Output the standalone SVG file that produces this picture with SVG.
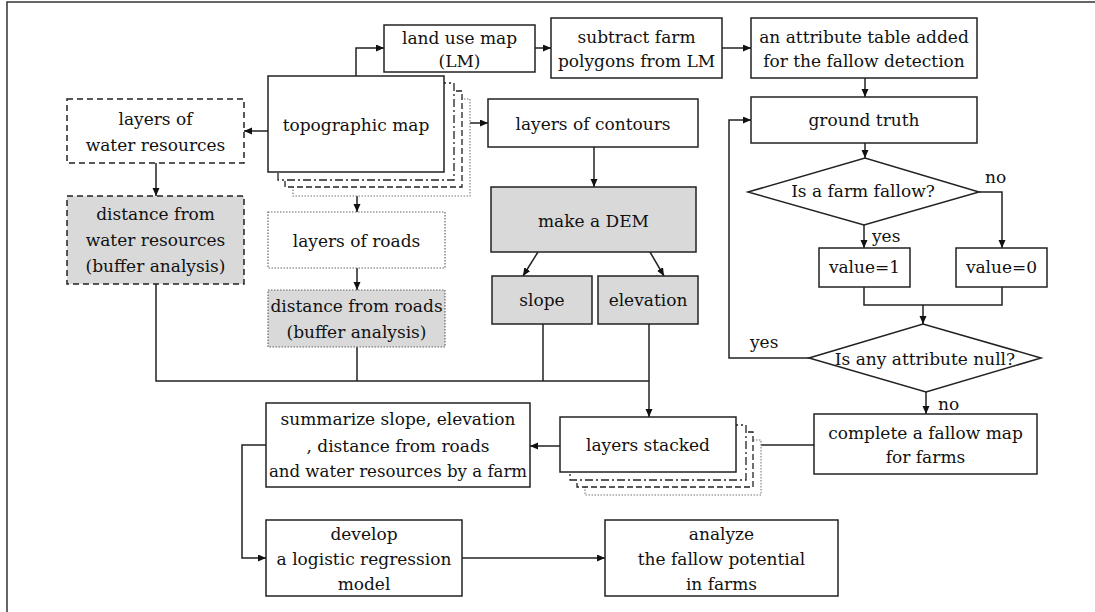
<svg xmlns="http://www.w3.org/2000/svg" width="1095" height="612" viewBox="0 0 1095 612">
<defs>
<marker id="ah" markerUnits="userSpaceOnUse" markerWidth="9" markerHeight="8" refX="8" refY="3.5" orient="auto"><path d="M0,0 L8,3.5 L0,7 z" fill="#111"/></marker>
<style>
.b{fill:#fff;stroke:#222;stroke-width:1.5}
.g{fill:#d9d9d9;stroke:#222;stroke-width:1.5}
.dash{fill:#fff;stroke:#222;stroke-width:1.5;stroke-dasharray:6,4}
.dashg{fill:#d9d9d9;stroke:#222;stroke-width:1.5;stroke-dasharray:6,4}
.dot{fill:#fff;stroke:#666;stroke-width:1.2;stroke-dasharray:1.5,1.5}
.dotg{fill:#d9d9d9;stroke:#666;stroke-width:1.2;stroke-dasharray:1.5,1.5}
.dd{fill:#fff;stroke:#222;stroke-width:1.3;stroke-dasharray:8,3,2,3}
.ds{fill:#fff;stroke:#222;stroke-width:1.3;stroke-dasharray:6,3}
.dt{fill:#fff;stroke:#777;stroke-width:1.1;stroke-dasharray:1.5,1.5}
.c{fill:none;stroke:#222;stroke-width:1.5}
.a{fill:none;stroke:#222;stroke-width:1.5;marker-end:url(#ah)}
text{font-size:17px;fill:#111;text-anchor:middle}
.l{text-anchor:start}
.s{font-size:16.6px}
</style>
</defs>
<path d="M7,612 V2 H1095" fill="none" stroke="#333" stroke-width="1.5"/>

<g id="connectors">
<path class="a" d="M356,76 V48 H384"/>
<path class="a" d="M268,131 H244"/>
<path class="a" d="M444,123 H488"/>
<path class="a" d="M357,172 V212"/>
<path class="a" d="M156,163 V196"/>
<path class="a" d="M357,268 V290"/>
<path class="a" d="M535,48 H551"/>
<path class="a" d="M722,48 H751"/>
<path class="a" d="M865,78 V97"/>
<path class="a" d="M594,147 V187"/>
<path class="a" d="M538,252 L523,276"/>
<path class="a" d="M650,252 L664,276"/>
<path class="a" d="M865,143 V158"/>
<path class="a" d="M864,225 V248"/>
<path class="a" d="M979,192 H1002 V248"/>
<path class="c" d="M864,287 V305 H1002 V287"/>
<path class="a" d="M923,305 V324"/>
<path class="a" d="M809,358 H729 V120 H751"/>
<path class="a" d="M926,392 V414"/>
<path class="a" d="M814,445 H736"/>
<path class="c" d="M156,284 V381 H649"/>
<path class="c" d="M357,347 V381"/>
<path class="c" d="M543,324 V381"/>
<path class="a" d="M649,324 V417"/>
<path class="a" d="M560,446 H530"/>
<path class="a" d="M266,445 H242 V558 H266"/>
<path class="a" d="M462,558 H605"/>
</g>

<g font-family="'DejaVu Serif', 'Liberation Serif', serif">
<g id="land-use-map"><rect class="b" x="384" y="25" width="151" height="47"/><text x="459.5" y="44">land use map</text><text x="459.5" y="67">(LM)</text></g>
<g id="subtract"><rect class="b" x="551" y="18" width="171" height="60"/><text x="636.5" y="43">subtract farm</text><text x="636.5" y="67">polygons from LM</text></g>
<g id="attribute-table"><rect class="b" x="751" y="18" width="226" height="60"/><text x="864" y="43">an attribute table added</text><text x="864" y="67">for the fallow detection</text></g>

<g id="topographic-map">
<rect class="dt" x="293" y="99" width="177" height="97"/>
<rect class="ds" x="285" y="91" width="177" height="96"/>
<rect class="dd" x="278" y="83" width="176" height="97"/>
<rect class="b" x="268" y="76" width="176" height="96"/>
<text x="356" y="131">topographic map</text>
</g>
<g id="water-layers"><rect class="dash" x="67" y="99" width="177" height="64"/><text x="155.5" y="125">layers of</text><text x="155.5" y="151">water resources</text></g>
<g id="contours"><rect class="b" x="488" y="99" width="210" height="48"/><text x="593" y="130">layers of contours</text></g>
<g id="ground-truth"><rect class="b" x="751" y="97" width="226" height="46"/><text x="864" y="126">ground truth</text></g>
<g id="farm-fallow"><polygon class="b" points="748,192 865,158 979,192 864,225"/><text x="863" y="197">Is a farm fallow?</text></g>
<g id="water-distance"><rect class="dashg" x="67" y="196" width="177" height="88"/><text x="155.5" y="220">distance from</text><text x="155.5" y="246">water resources</text><text x="155.5" y="272">(buffer analysis)</text></g>
<g id="roads"><rect class="dot" x="268" y="212" width="177" height="56"/><text x="356.5" y="247">layers of roads</text></g>
<g id="roads-distance"><rect class="dotg" x="268" y="290" width="177" height="57"/><text x="356.5" y="312">distance from roads</text><text x="356.5" y="338">(buffer analysis)</text></g>
<g id="dem"><rect class="g" x="491" y="187" width="205" height="65"/><text x="593.5" y="227">make a DEM</text></g>
<g id="slope"><rect class="g" x="492" y="276" width="100" height="48"/><text x="542" y="306">slope</text></g>
<g id="elevation"><rect class="g" x="598" y="276" width="100" height="48"/><text x="648" y="306">elevation</text></g>
<g id="value1"><rect class="b" x="819" y="248" width="91" height="39"/><text x="864.5" y="273">value=1</text></g>
<g id="value0"><rect class="b" x="956" y="248" width="91" height="39"/><text x="1001.5" y="273">value=0</text></g>
<g id="attribute-null"><polygon class="b" points="809,358 923,324 1041,358 926,392"/><text x="925" y="365">Is any attribute null?</text></g>
<g id="labels">
<text class="l" x="872" y="242">yes</text>
<text class="l" x="985" y="183">no</text>
<text class="l" x="750" y="348">yes</text>
<text class="l" x="938" y="410">no</text>
</g>
<g id="complete-map"><rect class="b" x="814" y="414" width="223" height="60"/><text x="925.5" y="439">complete a fallow map</text><text x="925.5" y="463">for farms</text></g>
<g id="layers-stacked">
<rect class="dt" x="585" y="440" width="176" height="55"/>
<rect class="ds" x="577" y="432" width="176" height="55"/>
<rect class="dd" x="570" y="425" width="176" height="55"/>
<rect class="b" x="560" y="417" width="176" height="55"/>
<text x="648" y="451">layers stacked</text>
</g>
<g id="summarize"><rect class="b" x="266" y="403" width="264" height="84"/><text x="398" y="425">summarize slope, elevation</text><text x="398" y="452">, distance from roads</text><text class="s" x="398" y="477">and water resources by a farm</text></g>
<g id="develop"><rect class="b" x="266" y="520" width="196" height="76"/><text x="364" y="540">develop</text><text x="364" y="565">a logistic regression</text><text x="364" y="590">model</text></g>
<g id="analyze"><rect class="b" x="605" y="520" width="233" height="76"/><text x="721.5" y="540">analyze</text><text x="721.5" y="565">the fallow potential</text><text x="721.5" y="590">in farms</text></g>
</g>
</svg>
